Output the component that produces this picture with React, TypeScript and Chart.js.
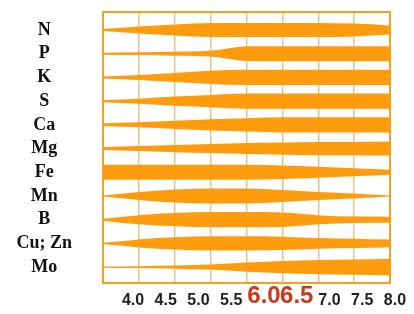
import { useEffect, useRef } from 'react';
import { Chart, registerables } from 'chart.js';

Chart.register(...registerables);

// pH sample points (x values) and tick labels
const phValues = [4.0, 4.5, 5.0, 5.5, 6.0, 6.5, 7.0, 7.5, 8.0];
const tickLabels = ['4.0', '4.5', '5.0', '5.5', '6.0', '6.5', '7.0', '7.5', '8.0'];
const highlightedTicks = [6.0, 6.5];

// nutrients (rows, top to bottom)
const nutrients = ['N', 'P', 'K', 'S', 'Ca', 'Mg', 'Fe', 'Mn', 'B', 'Cu; Zn', 'Mo'];

// relative availability (band thickness, 1 = full) at each pH value
const nAvail = [0.13, 0.47, 0.73, 0.93, 0.93, 0.93, 0.93, 0.85, 0.6];
const pAvail = [0.13, 0.18, 0.25, 0.38, 0.97, 1.0, 1.0, 1.0, 1.0];
const kAvail = [0.13, 0.33, 0.6, 0.87, 1.0, 1.0, 1.0, 1.0, 1.0];
const sAvail = [0.13, 0.33, 0.6, 0.8, 1.0, 1.0, 1.0, 1.0, 1.0];
const caAvail = [0.2, 0.33, 0.53, 0.73, 0.87, 1.0, 1.0, 1.0, 1.0];
const mgAvail = [0.2, 0.33, 0.47, 0.6, 0.73, 0.8, 0.87, 0.87, 0.93];
const feAvail = [1.0, 1.0, 1.0, 1.0, 1.0, 0.9, 0.73, 0.53, 0.33];
const mnAvail = [0.07, 0.53, 0.87, 1.0, 1.0, 0.8, 0.53, 0.33, 0.06];
const bAvail = [0.13, 0.6, 0.87, 1.0, 1.0, 0.95, 0.6, 0.42, 0.4];
const cuZnAvail = [0.07, 0.53, 0.8, 0.93, 0.93, 0.87, 0.7, 0.6, 0.5];
const moAvail = [0.07, 0.13, 0.2, 0.33, 0.6, 0.8, 0.93, 1.0, 1.1];

const availability = [nAvail, pAvail, kAvail, sAvail, caAvail, mgAvail, feAvail, mnAvail, bAvail, cuZnAvail, moAvail];

const BAND = '#ff9c0e';
const FRAME = '#f5a01e';
const GRID = '#e8c48a';
const HALF = 0.32;

export default function App() {
  const ref = useRef<HTMLCanvasElement | null>(null);

  useEffect(() => {
    if (!ref.current) return;
    const datasets: any[] = [];
    availability.forEach((vals, i) => {
      datasets.push({
        label: nutrients[i] + ' top',
        data: phValues.map((x, j) => ({ x, y: i - vals[j] * HALF })),
        borderWidth: 0,
        pointRadius: 0,
        fill: false,
        cubicInterpolationMode: 'monotone',
        backgroundColor: BAND,
        borderColor: BAND,
      });
      datasets.push({
        label: nutrients[i] + ' bottom',
        data: phValues.map((x, j) => ({ x, y: i + vals[j] * HALF })),
        borderWidth: 0,
        pointRadius: 0,
        fill: '-1',
        cubicInterpolationMode: 'monotone',
        backgroundColor: BAND,
        borderColor: BAND,
      });
    });

    const chart = new Chart(ref.current, {
      type: 'line',
      data: { datasets },
      options: {
        animation: false,
        responsive: false,
        layout: { padding: { left: 0, right: 24, top: 12, bottom: 0 } },
        plugins: { legend: { display: false }, tooltip: { enabled: false } },
        scales: {
          x: {
            type: 'linear',
            position: 'bottom',
            weight: 0,
            min: 4,
            max: 8,
            ticks: { display: false, stepSize: 0.5 },
            grid: {
              drawTicks: false,
              color: (c: any) => (c.tick && (c.tick.value === 4 || c.tick.value === 8) ? FRAME : GRID),
              lineWidth: (c: any) => (c.tick && (c.tick.value === 4 || c.tick.value === 8) ? 2 : 1.5),
            },
            border: { display: true, color: FRAME, width: 2 },
            afterFit: (s: any) => { s.height = 0; s.paddingLeft = 0; s.paddingRight = 0; },
          },
          x2: {
            type: 'linear',
            position: 'bottom',
            weight: 1,
            min: 3.542,
            max: 7.924,
            grid: { display: false, drawTicks: false },
            border: { display: false },
            afterBuildTicks: (s: any) => { s.ticks = phValues.map((v) => ({ value: v })); },
            ticks: {
              autoSkip: false,
              maxRotation: 0,
              padding: 13,
              crossAlign: 'center',
              callback: (_v: any, i: number) => tickLabels[i],
              color: (c: any) => (c.tick && highlightedTicks.includes(c.tick.value) ? '#c93a1c' : '#1e1e1e'),
              font: (c: any) =>
                c.tick && highlightedTicks.includes(c.tick.value)
                  ? { family: 'Liberation Sans, Arial, sans-serif', size: 24, weight: 'bold' }
                  : { family: 'Liberation Sans, Arial, sans-serif', size: 16, weight: 'bold' },
            },
            afterFit: (s: any) => { s.height = 31; s.paddingLeft = 0; s.paddingRight = 0; },
          },
          xTop: {
            type: 'linear',
            position: 'top',
            min: 4,
            max: 8,
            grid: { display: false, drawTicks: false },
            ticks: { display: false },
            border: { display: true, color: FRAME, width: 2 },
            afterFit: (s: any) => { s.height = 0; s.paddingLeft = 0; s.paddingRight = 0; },
          },
          y: {
            type: 'linear',
            reverse: true,
            min: -0.76,
            max: 10.67,
            afterBuildTicks: (s: any) => { s.ticks = nutrients.map((_, i) => ({ value: i })); },
            grid: { display: false, drawTicks: false },
            border: { display: true, color: FRAME, width: 2 },
            ticks: {
              autoSkip: false,
              crossAlign: 'center',
              padding: 31,
              color: '#111111',
              font: { family: 'Liberation Serif, Times New Roman, serif', size: 18, weight: 'bold' },
              callback: (_v: any, i: number) => nutrients[i],
            },
            afterFit: (s: any) => { s.width = 103; s.paddingTop = 0; s.paddingBottom = 0; },
          },
        },
      },
    });
    return () => chart.destroy();
  }, []);

  return (
    <div style={{ position: 'fixed', left: 0, top: 0, width: 414, height: 314, background: '#ffffff' }}>
      <canvas ref={ref} width={414} height={314} style={{ display: 'block' }} />
    </div>
  );
}
